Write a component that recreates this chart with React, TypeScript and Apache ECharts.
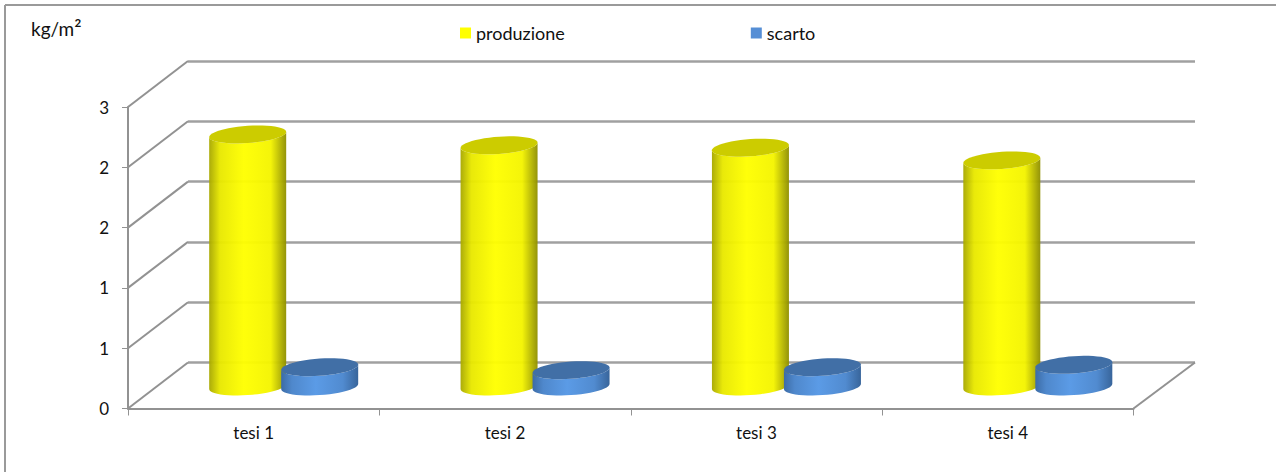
import React, { useEffect, useRef } from "react";
import * as echarts from "echarts";

const categories = ["tesi 1", "tesi 2", "tesi 3", "tesi 4"];
const produzione = [2.09, 2.0, 1.98, 1.875];
const scarto = [0.16, 0.135, 0.16, 0.18];
const yTickLabels = ["0", "1", "1", "2", "2", "3"];
const yTickValues = [0, 0.5, 1, 1.5, 2, 2.5];

const FONT = "Lato";
const TEXT = "#111111";
const LINE = "#929292";

// Projection of the chart depth onto the screen.
const DEPTH_X = 60;
const DEPTH_Y = -46;
const BAR_DEPTH_Y = -22;
const RX = 38.5;
const RY = 8.6;
const SHEAR = 2.6;
const BAR_SHIFT = 36;
const ARC_STEPS = 24;

type Shade = { edgeL: string; mid1: string; core: string; mid2: string; edgeR: string; cap: string };

const yellowShade: Shade = {
  edgeL: "#a8a800",
  mid1: "#e8e800",
  core: "#ffff00",
  mid2: "#f4f400",
  edgeR: "#8f8f00",
  cap: "#cccc00",
};
const blueShade: Shade = {
  edgeL: "#3c6ca6",
  mid1: "#4f88cc",
  core: "#5b9be6",
  mid2: "#518bd0",
  edgeR: "#38659b",
  cap: "#416fa6",
};

// Half of a sheared circle, from angle a0 to a1: the right end sits higher than the left.
function rim(cx: number, cy: number, a0: number, a1: number): string[] {
  const out: string[] = [];
  for (let i = 0; i <= ARC_STEPS; i++) {
    const t = a0 + ((a1 - a0) * i) / ARC_STEPS;
    const x = cx + RX * Math.cos(t);
    const y = cy + RY * Math.sin(t) - SHEAR * Math.cos(t);
    out.push(`${x.toFixed(2)} ${y.toFixed(2)}`);
  }
  return out;
}

// Draws one cylinder per category, standing halfway along the floor depth.
function cylinder(shade: Shade, shift: number, bodyOpacity: number) {
  return (_: any, api: any) => {
    const base = api.coord([api.value(0), 0]);
    const head = api.coord([api.value(0), api.value(1)]);
    const cx = base[0] + shift + DEPTH_X / 2;
    const by = base[1] + BAR_DEPTH_Y;
    const ty = head[1] + BAR_DEPTH_Y;
    const lower = rim(cx, by, Math.PI, 0);
    const upperFront = rim(cx, ty, 0, Math.PI);
    const upperBack = rim(cx, ty, Math.PI, 2 * Math.PI);
    const body = "M " + [...upperFront, ...lower].join(" L ") + " Z";
    const cap = "M " + [...upperFront, ...upperBack].join(" L ") + " Z";
    return {
      type: "group",
      children: [
        {
          type: "path",
          shape: { pathData: body },
          style: {
            opacity: bodyOpacity,
            fill: new echarts.graphic.LinearGradient(0, 0, 1, 0, [
              { offset: 0, color: shade.edgeL },
              { offset: 0.14, color: shade.mid1 },
              { offset: 0.45, color: shade.core },
              { offset: 0.8, color: shade.mid2 },
              { offset: 1, color: shade.edgeR },
            ]),
          },
        },
        { type: "path", shape: { pathData: cap }, style: { fill: shade.cap } },
      ],
    };
  };
}

// Receding lines of the left wall, one per value tick.
function wallLines(_: any, api: any) {
  const from = api.coord([0, api.value(1)]);
  const x = from[0] - api.size([1, 0])[0] / 2;
  return {
    type: "line",
    shape: { x1: x, y1: from[1], x2: x + DEPTH_X, y2: from[1] + DEPTH_Y },
    style: { stroke: LINE, lineWidth: 2 },
  };
}

// Right edge of the floor.
function floorEdge(_: any, api: any) {
  const c = api.coord([categories.length - 1, 0]);
  const x = c[0] + api.size([1, 0])[0] / 2;
  return {
    type: "line",
    shape: { x1: x, y1: c[1], x2: x + DEPTH_X + 1.5, y2: c[1] + DEPTH_Y },
    style: { stroke: LINE, lineWidth: 2 },
  };
}

export default function App() {
  const ref = useRef<HTMLDivElement>(null);

  useEffect(() => {
    const chart = echarts.init(ref.current!, null, { renderer: "svg" });
    chart.setOption({
      animation: false,
      backgroundColor: "#ffffff",
      textStyle: { fontFamily: FONT },
      legend: {
        left: 455,
        top: 19,
        icon: "rect",
        itemWidth: 11,
        itemHeight: 11,
        itemGap: 186,
        selectedMode: false,
        data: ["produzione", "scarto"],
        textStyle: { fontFamily: FONT, fontSize: 18, color: TEXT },
      },
      grid: [
        { left: 128, top: 107, width: 1005.5, height: 301.5 },
        { left: 188, top: 61, width: 1007, height: 301.5 },
      ],
      xAxis: [
        {
          type: "category",
          gridIndex: 0,
          data: categories,
          axisLine: { show: true, lineStyle: { color: LINE, width: 2 } },
          axisTick: { show: true, length: 7, lineStyle: { color: LINE, width: 1 } },
          axisLabel: { color: TEXT, fontFamily: FONT, fontSize: 17, margin: 15 },
        },
        { type: "category", gridIndex: 1, data: categories, show: false },
      ],
      yAxis: [
        {
          type: "value",
          gridIndex: 0,
          min: 0,
          max: 2.5,
          interval: 0.5,
          axisLine: { show: true, lineStyle: { color: LINE, width: 2 } },
          axisTick: { show: true, length: 6, lineStyle: { color: LINE, width: 1 } },
          splitLine: { show: false },
          axisLabel: {
            color: TEXT,
            fontFamily: FONT,
            fontSize: 17,
            margin: 19,
            formatter: (_: number, i: number) => yTickLabels[i],
          },
        },
        {
          type: "value",
          gridIndex: 1,
          min: 0,
          max: 2.5,
          interval: 0.5,
          axisLine: { show: false },
          axisTick: { show: false },
          axisLabel: { show: false },
          splitLine: { show: true, lineStyle: { color: "#a0a0a0", width: 2.5 } },
        },
      ],
      series: [
        {
          type: "custom",
          name: "wall",
          silent: true,
          z: 1,
          xAxisIndex: 0,
          yAxisIndex: 0,
          renderItem: wallLines,
          data: yTickValues.map((v) => [0, v]),
          encode: { x: 0, y: 1 },
          clip: false,
        },
        {
          type: "custom",
          name: "floor edge",
          silent: true,
          z: 1,
          xAxisIndex: 0,
          yAxisIndex: 0,
          renderItem: floorEdge,
          data: [[0, 0]],
          encode: { x: 0, y: 1 },
          clip: false,
        },
        {
          type: "custom",
          name: "produzione",
          z: 3,
          xAxisIndex: 0,
          yAxisIndex: 0,
          itemStyle: { color: "#ffff00" },
          renderItem: cylinder(yellowShade, -BAR_SHIFT, 0.96),
          data: produzione.map((v, i) => [i, v]),
          encode: { x: 0, y: 1 },
          clip: false,
        },
        {
          type: "custom",
          name: "scarto",
          z: 4,
          xAxisIndex: 0,
          yAxisIndex: 0,
          itemStyle: { color: "#558ed5" },
          renderItem: cylinder(blueShade, BAR_SHIFT, 1),
          data: scarto.map((v, i) => [i, v]),
          encode: { x: 0, y: 1 },
          clip: false,
        },
      ],
      graphic: [
        { type: "line", shape: { x1: 5, y1: 5, x2: 1276, y2: 5 }, style: { stroke: "#9a9a9a", lineWidth: 2 } },
        { type: "line", shape: { x1: 5, y1: 5, x2: 5, y2: 472 }, style: { stroke: "#9a9a9a", lineWidth: 2 } },
        {
          type: "text",
          x: 31,
          y: 28,
          style: {
            text: "{a|kg/m}{b|²}",
            verticalAlign: "middle",
            rich: {
              a: { font: `19px ${FONT}`, fill: TEXT },
              b: { font: `22px ${FONT}`, fill: TEXT },
            },
          },
        },
      ],
    });
    return () => chart.dispose();
  }, []);

  return (
    <div
      ref={ref}
      style={{ position: "fixed", left: 0, top: 0, width: 1276, height: 472 }}
    />
  );
}
